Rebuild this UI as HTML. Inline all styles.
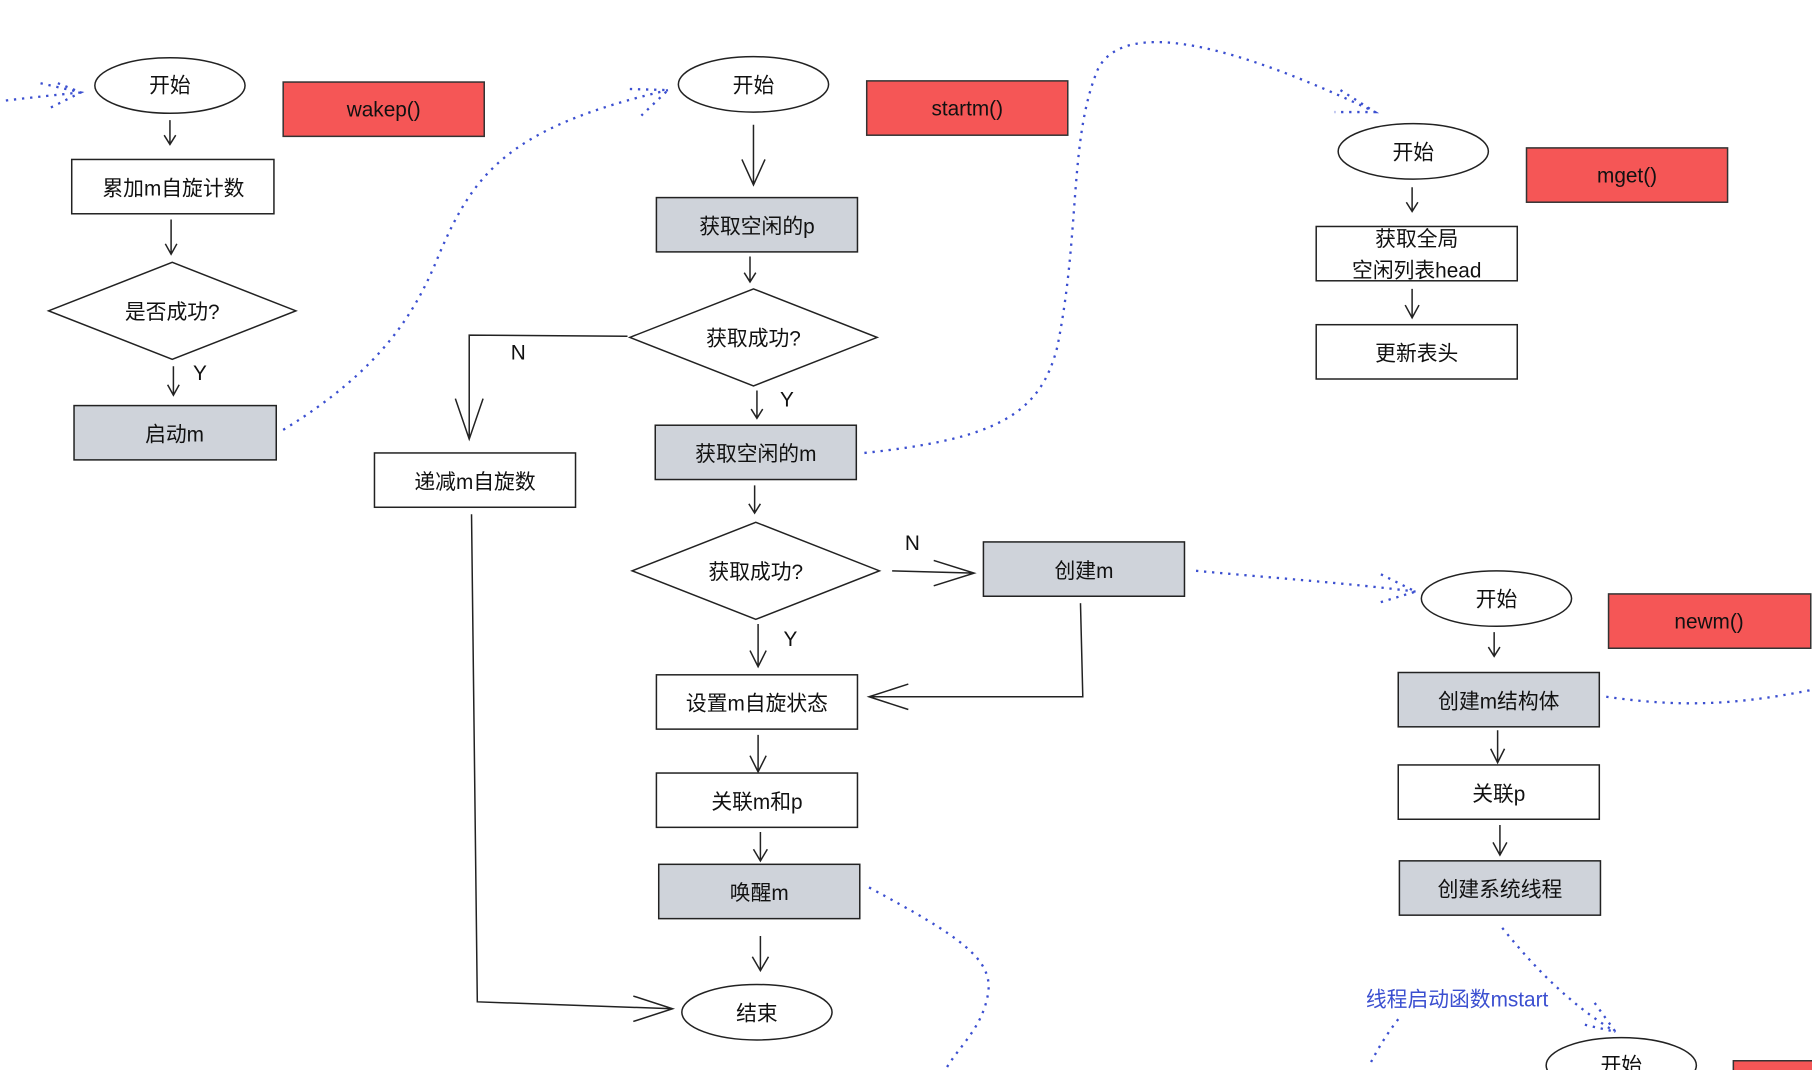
<!DOCTYPE html>
<html><head><meta charset="utf-8"><style>
html,body{margin:0;padding:0;background:#fff;}
svg{display:block;}
text{font-family:"Liberation Sans","Noto Sans CJK SC",sans-serif;font-size:18px;fill:#111;}
.b{fill:#fff;stroke:#222;stroke-width:1.3}
.g{fill:#cfd3da;stroke:#222;stroke-width:1.3}
.r{fill:#f55656;stroke:#333;stroke-width:1.3}
.l{fill:none;stroke:#222;stroke-width:1.3}
.d{fill:none;stroke:#3b4fd0;stroke-width:2;stroke-dasharray:2 5}
</style></head><body>
<svg width="1812" height="1070" viewBox="0 0 1568 926" xmlns="http://www.w3.org/2000/svg">
<!-- dotted connectors -->
<path class="d" d="M5,87 C30,84 50,82 70,80 M35,72 L70,80 L40,95 M50,72 L70,80"/>
<path class="d" d="M245,372 C330,320 360,270 380,220 C410,150 440,110 578,78 M545,77 L578,78 L555,100"/>
<path class="d" d="M748,392 C860,380 900,360 915,300 C935,200 925,120 950,60 C970,20 1050,30 1190,97 M1160,78 L1190,97 L1155,97"/>
<path class="d" d="M752,768 C830,810 860,830 855,860 C850,890 830,905 818,926"/>
<path class="d" d="M1035,494 C1100,500 1170,505 1225,512 M1195,497 L1225,512 L1192,522"/>
<path class="d" d="M1390,603 C1440,610 1490,613 1568,597"/>
<path class="d" d="M1300,803 C1330,840 1360,870 1398,893 M1380,868 L1398,893 L1368,886"/>
<path class="d" d="M1210,882 C1200,895 1192,908 1185,922"/>
<text x="1182" y="871" style="fill:#3b4fd0">线程启动函数mstart</text>

<!-- wakep -->
<ellipse class="b" cx="147" cy="74" rx="65" ry="24"/><text x="147" y="80" text-anchor="middle">开始</text>
<rect class="r" x="245" y="71" width="174" height="47"/><text x="332" y="101" text-anchor="middle">wakep()</text>
<path class="l" d="M147,104 L147,125 M142,117 L147,125 L152,117"/>
<rect class="b" x="62" y="138" width="175" height="47"/><text x="150" y="169" text-anchor="middle">累加m自旋计数</text>
<path class="l" d="M148,190 L148,220 M143,211 L148,220 L153,211"/>
<polygon class="b" points="42,269 149,227 256,269 149,311"/><text x="149" y="276" text-anchor="middle">是否成功?</text>
<path class="l" d="M150,317 L150,342 M145,333 L150,342 L155,333"/><text x="167" y="329">Y</text>
<rect class="g" x="64" y="351" width="175" height="47"/><text x="151" y="382" text-anchor="middle">启动m</text>

<!-- startm -->
<ellipse class="b" cx="652" cy="73" rx="65" ry="24"/><text x="652" y="80" text-anchor="middle">开始</text>
<rect class="r" x="750" y="70" width="174" height="47"/><text x="837" y="100" text-anchor="middle">startm()</text>
<path class="l" d="M652,108 L652,160 M642,138 L652,160 L662,138"/>
<rect class="g" x="568" y="171" width="174" height="47"/><text x="655" y="202" text-anchor="middle">获取空闲的p</text>
<path class="l" d="M649,222 L649,244 M644,236 L649,244 L654,236"/>
<polygon class="b" points="545,292 652,250 759,292 652,334"/><text x="652" y="299" text-anchor="middle">获取成功?</text>
<path class="l" d="M543,291 L406,290 L406,380 M394,345 L406,380 L418,345"/><text x="442" y="311">N</text>
<rect class="b" x="324" y="392" width="174" height="47"/><text x="411" y="423" text-anchor="middle">递减m自旋数</text>
<path class="l" d="M408,445 L413,867 L582,873 M548,862 L582,873 L548,884"/>
<path class="l" d="M655,338 L655,362 M650,354 L655,362 L660,354"/><text x="675" y="352">Y</text>
<rect class="g" x="567" y="368" width="174" height="47"/><text x="654" y="399" text-anchor="middle">获取空闲的m</text>
<path class="l" d="M653,420 L653,444 M648,436 L653,444 L658,436"/>
<polygon class="b" points="547,494 654,452 761,494 654,536"/><text x="654" y="501" text-anchor="middle">获取成功?</text>
<path class="l" d="M772,494 L843,496 M808,485 L843,496 L808,507"/><text x="783" y="476">N</text>
<rect class="g" x="851" y="469" width="174" height="47"/><text x="938" y="500" text-anchor="middle">创建m</text>
<path class="l" d="M935,522 L937,603 L752,603 M786,592 L752,603 L786,614"/>
<path class="l" d="M656,540 L656,577 M649,563 L656,577 L663,563"/><text x="678" y="559">Y</text>
<rect class="b" x="568" y="584" width="174" height="47"/><text x="655" y="615" text-anchor="middle">设置m自旋状态</text>
<path class="l" d="M656,636 L656,668 M649,654 L656,668 L663,654"/>
<rect class="b" x="568" y="669" width="174" height="47"/><text x="655" y="700" text-anchor="middle">关联m和p</text>
<path class="l" d="M658,720 L658,745 M652,735 L658,745 L664,735"/>
<rect class="g" x="570" y="748" width="174" height="47"/><text x="657" y="779" text-anchor="middle">唤醒m</text>
<path class="l" d="M658,810 L658,840 M651,828 L658,840 L665,828"/>
<ellipse class="b" cx="655" cy="876" rx="65" ry="24"/><text x="655" y="883" text-anchor="middle">结束</text>

<!-- mget -->
<ellipse class="b" cx="1223" cy="131" rx="65" ry="24"/><text x="1223" y="138" text-anchor="middle">开始</text>
<rect class="r" x="1321" y="128" width="174" height="47"/><text x="1408" y="158" text-anchor="middle">mget()</text>
<path class="l" d="M1222,162 L1222,183 M1217,175 L1222,183 L1227,175"/>
<rect class="b" x="1139" y="196" width="174" height="47"/>
<text x="1226" y="213" text-anchor="middle">获取全局</text><text x="1226" y="240" text-anchor="middle">空闲列表head</text>
<path class="l" d="M1222,250 L1222,275 M1216,264 L1222,275 L1228,264"/>
<rect class="b" x="1139" y="281" width="174" height="47"/><text x="1226" y="312" text-anchor="middle">更新表头</text>

<!-- newm -->
<ellipse class="b" cx="1295" cy="518" rx="65" ry="24"/><text x="1295" y="525" text-anchor="middle">开始</text>
<rect class="r" x="1392" y="514" width="175" height="47"/><text x="1479" y="544" text-anchor="middle">newm()</text>
<path class="l" d="M1293,547 L1293,568 M1288,560 L1293,568 L1298,560"/>
<rect class="g" x="1210" y="582" width="174" height="47"/><text x="1297" y="613" text-anchor="middle">创建m结构体</text>
<path class="l" d="M1296,632 L1296,660 M1290,648 L1296,660 L1302,648"/>
<rect class="b" x="1210" y="662" width="174" height="47"/><text x="1297" y="693" text-anchor="middle">关联p</text>
<path class="l" d="M1298,714 L1298,740 M1292,729 L1298,740 L1304,729"/>
<rect class="g" x="1211" y="745" width="174" height="47"/><text x="1298" y="776" text-anchor="middle">创建系统线程</text>

<ellipse class="b" cx="1403" cy="922" rx="65" ry="24"/><text x="1403" y="928" text-anchor="middle">开始</text>
<rect class="r" x="1500" y="918" width="100" height="47"/>
</svg>
</body></html>
